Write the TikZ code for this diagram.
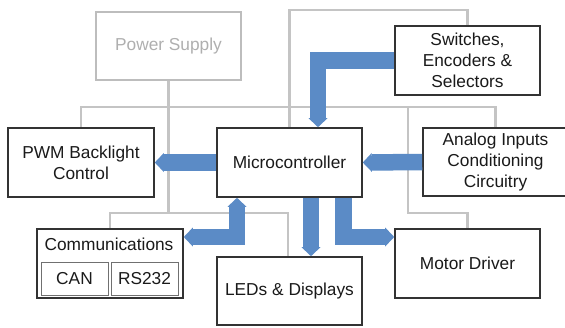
\documentclass[tikz,border=0pt]{standalone}
\usepackage{fontspec}
\setmainfont{Liberation Sans}
\usetikzlibrary{arrows.meta,backgrounds}
\definecolor{boxline}{HTML}{333333}
\definecolor{txt}{HTML}{1A1A1A}
\definecolor{pwrline}{HTML}{C4C4C4}
\definecolor{psline}{HTML}{BDBDBD}
\definecolor{pstext}{HTML}{AFAFAF}
\definecolor{bluebus}{HTML}{5B8BC6}
\begin{document}
\begin{tikzpicture}[x=1pt,y=-1pt,
  font=\fontsize{17.3}{20.8}\selectfont,
  box/.style={draw=boxline, line width=1.6pt, fill=white, text=txt, align=center, inner sep=0pt},
  psbox/.style={box, draw=psline, text=pstext},
  subbox/.style={draw=boxline!70, line width=1pt, fill=white, text=txt, inner sep=0pt, minimum width=67pt, minimum height=33pt},
  pwr/.style={draw=pwrline, line width=2.7pt},
  bus/.style={draw=bluebus, line width=16.5pt},
  bushead/.tip={Triangle[width=19pt,length=9pt,line width=0pt,fill=bluebus,color=bluebus]},
  tip/.style={-bushead},
  bitip/.style={bushead-bushead}
]
\useasboundingbox (0,0) rectangle (565,327);
\clip (0,0) rectangle (565,327);

% coordinates for power distribution
\coordinate (busA) at (495.5,107);
\coordinate (top) at (467.5,10);
\coordinate (rv) at (408,107);
\coordinate (mr) at (467.5,213);
\coordinate (lb) at (288,213);

% boxes
\node[psbox, minimum width=145pt, minimum height=68pt] (ps) at (168.5,46) {Power Supply};
\node[box, minimum width=145pt, minimum height=69pt] (sw) at (467.5,60.5) {Switches,\\Encoders \&\\Selectors};
\node[box, minimum width=146pt, minimum height=69pt] (pwm) at (81,162.5) {PWM Backlight\\Control};
\node[box, minimum width=145pt, minimum height=69pt] (mc) at (289.5,162.5) {Microcontroller};
\node[box, minimum width=145pt, minimum height=68pt] (an) at (495.5,162) {Analog Inputs\\Conditioning\\Circuitry};
\node[box, minimum width=146pt, minimum height=69pt] (comm) at (110,263.5) {};
\node[box, minimum width=145pt, minimum height=68pt] (leds) at (289.5,291) {LEDs \& Displays};
\node[box, minimum width=145pt, minimum height=69pt] (motor) at (467.5,263.5) {Motor Driver};

% communications contents
\node[text=txt, inner sep=0pt] (commlabel) at (109,244) {Communications};
\node[subbox] (can) at (74.5,278.5) {CAN};
\node[subbox] (rs) at (144.5,278.5) {RS232};

% power lines (behind boxes)
\begin{scope}[on background layer]
\fill[white] (0,0) rectangle (565,327);
\path[pwr] (pwm.north) |- (busA) -- (an.north);
\path[pwr] (ps.south) -- (ps.south |- lb);
\path[pwr] (mc.north) |- (top) -- (sw.north);
\path[pwr] (rv) |- (mr) -- (motor.north);
\path[pwr] (comm.north) |- (lb) -- (lb |- leds.north);
\end{scope}

% blue buses
\draw[bus, tip] (mc.west) -- (pwm.east);
\draw[bus, tip] (an.west) -- (mc.east);
\draw[bus, tip] (sw.west) -| ([xshift=28.5pt]mc.north);
\draw[bus, bitip] ([xshift=-52.5pt]mc.south) |- ([yshift=26.5pt]comm.east);
\draw[bus, tip] ([xshift=21.5pt]mc.south) -- ([xshift=21.5pt]leds.north);
\draw[bus, tip] ([xshift=54pt]mc.south) |- ([yshift=26.5pt]motor.west);
\end{tikzpicture}
\end{document}
